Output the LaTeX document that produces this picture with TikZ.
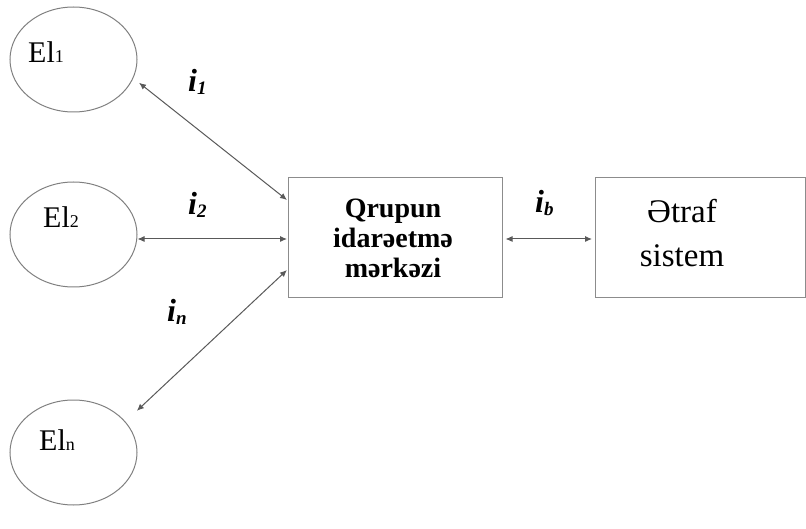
\documentclass[tikz,border=0pt]{standalone}
\usepackage{fontspec}
\setmainfont{Liberation Serif}
\usetikzlibrary{shapes.geometric,arrows.meta}
\begin{document}
\begin{tikzpicture}[x=1pt,y=-1pt,
  elnode/.style={draw=black!50,line width=1pt,ellipse,minimum width=127pt,minimum height=105pt,inner sep=0pt},
  boxnode/.style={draw=black!45,line width=1pt,inner sep=0pt},
  lbl/.style={font=\fontsize{32}{32}\selectfont\bfseries\itshape,anchor=base west,inner sep=0pt},
  conn/.style={draw=black!65,line width=1pt,{Latex[length=7pt,width=6pt]}-{Latex[length=7pt,width=6pt]}},
  eltext/.style={font=\fontsize{30}{30}\selectfont,anchor=base west,inner sep=0pt}]
\useasboundingbox (0,0) rectangle (806,529);
\node[elnode] (e1) at (73.5,59.5) {};
\node[elnode] (e2) at (73.5,234.5) {};
\node[elnode] (en) at (73.5,452.5) {};
\node[eltext] (t1) at (28,63) {El{\fontsize{18}{18}\selectfont 1}};
\node[eltext] (t2) at (43,228) {El{\fontsize{18}{18}\selectfont 2}};
\node[eltext] (tn) at (39,450) {El{\fontsize{18}{18}\selectfont n}};
\node[boxnode,minimum width=214pt,minimum height=120pt] (c) at (395,238) {};
\node[font=\fontsize{28}{30}\selectfont\bfseries,align=center,anchor=base,inner sep=0pt] (ct) at (393,278) {Qrupun\\idarəetmə\\mərkəzi};
\node[boxnode,minimum width=210pt,minimum height=120pt] (s) at (700.5,238) {};
\node[font=\fontsize{33}{44}\selectfont,align=center,anchor=base,inner sep=0pt] (st) at (682,267) {Ətraf\\sistem};
\coordinate (c1) at (287,200);
\coordinate (c2) at (287,239);
\coordinate (cn) at (287,270);
\draw[conn] ([xshift=8pt]e1.-22) -- (c1);
\draw[conn] ([yshift=-4.5pt]e2.east) -- (c2);
\draw[conn] ([shift={(16pt,6pt)}]en.37) -- (cn);
\draw[conn] ([shift={(3pt,-1pt)}]c.east) -- ([shift={(-3pt,-1pt)}]s.west);
\node[lbl] (l1) at (188,92) {i\raisebox{-3pt}{\fontsize{19}{19}\selectfont 1}};
\node[lbl] (l2) at (188,215) {i\raisebox{-3pt}{\fontsize{19}{19}\selectfont 2}};
\node[lbl] (ln) at (167,322) {i\raisebox{-3pt}{\fontsize{19}{19}\selectfont n}};
\node[lbl] (lb) at (535,213) {i\raisebox{-3pt}{\fontsize{19}{19}\selectfont b}};
\end{tikzpicture}
\end{document}
